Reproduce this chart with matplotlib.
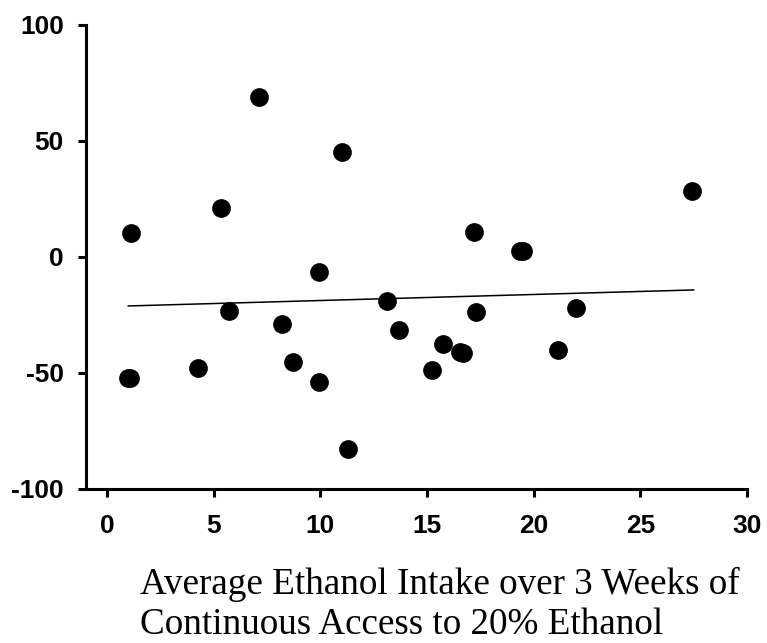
import matplotlib
matplotlib.use("Agg")
import matplotlib.pyplot as plt
import numpy as np

plt.rcParams["axes.unicode_minus"] = False

# average ethanol intake (x) vs change score (y)
intake = [1.0, 1.1, 1.15, 4.25, 5.34, 5.74, 7.14, 8.19, 8.73, 9.95, 9.95,
          11.0, 11.28, 13.14, 13.7, 15.22, 15.77, 16.55, 16.7, 17.2, 17.3,
          19.35, 19.5, 21.16, 22.0, 27.44]
change = [-52.3, -52.3, 10.2, -48.0, 21.0, -23.1, 69.1, -28.9, -45.4, -54.0,
          -6.3, 45.1, -82.8, -18.8, -31.6, -48.7, -37.6, -41.1, -41.3, 10.6,
          -23.8, 2.7, 2.7, -40.1, -22.1, 28.6]

# regression line end points, as drawn in the figure
fit_x = [1.0, 27.5]
fit_y = [-21.1, -14.2]

xticks = [0, 5, 10, 15, 20, 25, 30]
yticks = [-100, -50, 0, 50, 100]
xlabel = "Average Ethanol Intake over 3 Weeks of\nContinuous Access to 20% Ethanol"

fig = plt.figure(figsize=(7.67, 6.43), dpi=100)
ax = fig.add_axes([86 / 767, 1 - 489 / 643, 661 / 767, 464 / 643])

ax.plot(fit_x, fit_y, color="black", linewidth=1.1)
ax.plot(intake, change, "o", color="black", markersize=13.5, markeredgewidth=0)

ax.set_xlim(-0.98, 30)
ax.set_ylim(-100, 100)
ax.set_xticks(xticks)
ax.set_yticks(yticks)

for side in ["top", "right"]:
    ax.spines[side].set_visible(False)
for side in ["left", "bottom"]:
    ax.spines[side].set_linewidth(2.2)

ax.tick_params(width=2.2, length=6, pad=10, labelsize=19)
ax.tick_params(axis="x", pad=12)
for lab in ax.get_xticklabels() + ax.get_yticklabels():
    lab.set_fontfamily("Liberation Sans")
    lab.set_fontweight("bold")

fig.text(140 / 767, 1 - 567 / 643, xlabel, ha="left", va="top",
         family="Liberation Serif", fontsize=26.7, linespacing=1.2)

fig.savefig("out.png", dpi=100)
